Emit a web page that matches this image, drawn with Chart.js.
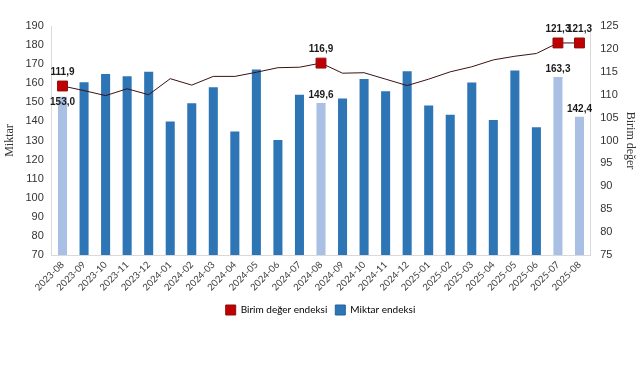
<!DOCTYPE html>
<html>
<head>
<meta charset="utf-8">
<script src="https://cdn.jsdelivr.net/npm/chart.js@4/dist/chart.umd.min.js"></script>
<style>
  body { margin: 0; background: #fff; }
  #wrap { width: 641px; height: 365px; }
</style>
</head>
<body>
<div id="wrap"><canvas id="chart"></canvas></div>
<script>
const months = [
  "2023-08", "2023-09", "2023-10", "2023-11", "2023-12",
  "2024-01", "2024-02", "2024-03", "2024-04", "2024-05", "2024-06", "2024-07",
  "2024-08", "2024-09", "2024-10", "2024-11", "2024-12",
  "2025-01", "2025-02", "2025-03", "2025-04", "2025-05", "2025-06", "2025-07", "2025-08"
];

// Miktar endeksi (bars, left axis)
const miktar = [
  153.0, 160.5, 164.9, 163.7, 166.0,
  140.0, 149.5, 157.9, 134.7, 167.2, 130.3, 154.0,
  149.6, 152.0, 162.3, 155.8, 166.3,
  148.4, 143.5, 160.4, 140.7, 166.7, 137.0, 163.3, 142.4
];

// Birim değer endeksi (line, right axis)
const birimDeger = [
  111.9, 110.9, 109.8, 111.3, 110.0,
  113.5, 112.1, 114.0, 114.0, 114.9, 115.9, 116.0,
  116.9, 114.7, 114.8, 113.4, 112.0,
  113.4, 115.0, 116.1, 117.6, 118.4, 119.0, 121.3, 121.3
];

// months that are marked and labelled
const marked = ["2023-08", "2024-08", "2025-07", "2025-08"];

const leftTicks = { min: 70, max: 190, step: 10 };
const rightTicks = { min: 75, max: 125, step: 5 };

const isMarked = (i) => marked.includes(months[i]);
const fmt = (v) => v.toFixed(1).replace(".", ",");

const DARK_BLUE = "#2e75b6";
const LIGHT_BLUE = "#a9bfe3";
const RED = "#c00000";

// value labels over the marked points
const valueLabels = {
  id: "valueLabels",
  afterDatasetsDraw(chart) {
    const ctx = chart.ctx;
    ctx.save();
    ctx.font = "bold 10px 'Liberation Sans', Arial, sans-serif";
    ctx.fillStyle = "#1a1a1a";
    ctx.textAlign = "center";
    ctx.textBaseline = "bottom";
    const lineMeta = chart.getDatasetMeta(0);
    const barMeta = chart.getDatasetMeta(1);
    months.forEach((m, i) => {
      if (!isMarked(i)) return;
      const p = lineMeta.data[i];
      ctx.fillText(fmt(birimDeger[i]), p.x, p.y - 9);
      const b = barMeta.data[i];
      // first bar label sits under the marker
      const by = i === 0 ? b.y + 11 : b.y - 3;
      ctx.fillText(fmt(miktar[i]), b.x, by);
    });
    ctx.restore();
  }
};

const ctx = document.getElementById("chart");

new Chart(ctx, {
  data: {
    labels: months,
    datasets: [
      {
        type: "line",
        label: "Birim değer endeksi",
        data: birimDeger,
        yAxisID: "y1",
        borderColor: "#3a1212",
        borderWidth: 1,
        backgroundColor: RED,
        pointStyle: "rect",
        pointRadius: (c) => (isMarked(c.dataIndex) ? 7 : 0),
        pointHoverRadius: 0,
        pointBackgroundColor: RED,
        pointBorderColor: "#8a1010",
        pointBorderWidth: 1,
        tension: 0,
        order: 0
      },
      {
        type: "bar",
        label: "Miktar endeksi",
        data: miktar,
        yAxisID: "y",
        backgroundColor: months.map((m, i) => (isMarked(i) ? LIGHT_BLUE : DARK_BLUE)),
        borderWidth: 0,
        categoryPercentage: 1,
        barPercentage: 0.42,
        order: 1
      }
    ]
  },
  options: {
    responsive: true,
    maintainAspectRatio: false,
    animation: false,
    layout: { padding: { top: 26, left: 0, right: 0, bottom: 40 } },
    plugins: {
      tooltip: { enabled: false },
      legend: {
        position: "bottom",
        labels: {
          font: { family: "Lato, 'Open Sans', sans-serif", size: 10 },
          color: "#222",
          boxWidth: 10,
          boxHeight: 10,
          padding: 8,
          generateLabels: () => [
            { text: "Birim değer endeksi", fillStyle: RED, strokeStyle: "#8a1010", lineWidth: 1, datasetIndex: 0 },
            { text: "Miktar endeksi", fillStyle: DARK_BLUE, strokeStyle: "#25629a", lineWidth: 1, datasetIndex: 1 }
          ]
        }
      }
    },
    scales: {
      x: {
        offset: true,
        grid: { display: false, drawTicks: false },
        border: { display: true, color: "#d9d9d9" },
        ticks: {
          autoSkip: false,
          maxRotation: 45,
          minRotation: 45,
          color: "#404040",
          padding: 4,
          font: { family: "Lato, 'Open Sans', sans-serif", size: 9.5 }
        }
      },
      y: {
        position: "left",
        min: leftTicks.min,
        max: leftTicks.max,
        grid: { display: false, drawTicks: false },
        border: { display: true, color: "#d9d9d9" },
        ticks: {
          stepSize: leftTicks.step,
          color: "#333",
          padding: 8,
          font: { family: "'Liberation Sans', Arial, sans-serif", size: 11 }
        },
        title: {
          display: true,
          text: "Miktar",
          color: "#333",
          padding: { top: 3, bottom: 0 },
          font: { family: "'Liberation Serif', 'Times New Roman', serif", size: 12 }
        }
      },
      y1: {
        position: "right",
        min: rightTicks.min,
        max: rightTicks.max,
        grid: { display: false, drawTicks: false },
        border: { display: true, color: "#d9d9d9" },
        afterFit: (scale) => { scale.width -= 6; },
        ticks: {
          stepSize: rightTicks.step,
          color: "#333",
          padding: 10,
          font: { family: "'Liberation Sans', Arial, sans-serif", size: 11 }
        },
        title: {
          display: true,
          text: "Birim değer",
          color: "#333",
          padding: { top: 4, bottom: 0 },
          font: { family: "'Liberation Serif', 'Times New Roman', serif", size: 12 }
        }
      }
    }
  },
  plugins: [valueLabels]
});
</script>
</body>
</html>
